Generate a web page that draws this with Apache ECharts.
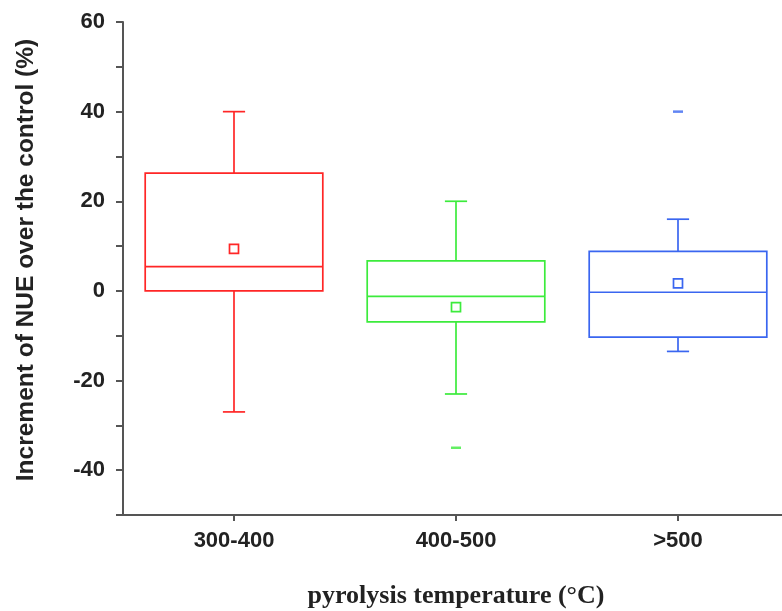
<!DOCTYPE html>
<html lang="en" style="height: 100%">
<head>
  <meta charset="utf-8">
  <title>NUE boxplot</title>
  <script src="https://cdn.jsdelivr.net/npm/echarts@6/dist/echarts.min.js"></script>
</head>
<body style="height: 100%; margin: 0; background: #fff">
  <div id="container" style="width: 782px; height: 611px"></div>
  <script type="text/javascript">
    // values
    var categories = ['300-400', '400-500', '>500'];
    var lowWhisker = [-27, -23, -13.5];
    var q1 = [0, -6.9, -10.3];
    var median = [5.4, -1.2, -0.3];
    var q3 = [26.3, 6.7, 8.8];
    var highWhisker = [40, 20, 16];
    var means = [9.4, -3.6, 1.7];
    var outliers = [[1, -35], [2, 40]];
    var colors = ['#ff2626', '#3ceb3c', '#3a66f0'];

    var dom = document.getElementById('container');
    var myChart = echarts.init(dom, null, { renderer: 'canvas' });

    var boxData = categories.map(function (c, i) {
      return [i, lowWhisker[i], q1[i], median[i], q3[i], highWhisker[i], means[i]];
    });

    function renderBox(params, api) {
      var i = api.value(0);
      var band = api.size([1, 0])[0];
      var half = band * 0.4;
      var cap = band * 0.05;
      var cx = api.coord([i, 0])[0];
      var yLow = api.coord([i, api.value(1)])[1];
      var yQ1 = api.coord([i, api.value(2)])[1];
      var yMed = api.coord([i, api.value(3)])[1];
      var yQ3 = api.coord([i, api.value(4)])[1];
      var yHigh = api.coord([i, api.value(5)])[1];
      var yMean = api.coord([i, api.value(6)])[1];
      var st = { stroke: colors[i], lineWidth: 1.7, fill: null };
      return {
        type: 'group',
        children: [
          { type: 'rect', shape: { x: cx - half, y: yQ3, width: half * 2, height: yQ1 - yQ3 }, style: st },
          { type: 'line', shape: { x1: cx - half, y1: yMed, x2: cx + half, y2: yMed }, style: st },
          { type: 'line', shape: { x1: cx, y1: yQ3, x2: cx, y2: yHigh }, style: st },
          { type: 'line', shape: { x1: cx, y1: yQ1, x2: cx, y2: yLow }, style: st },
          { type: 'line', shape: { x1: cx - cap, y1: yHigh, x2: cx + cap, y2: yHigh }, style: st },
          { type: 'line', shape: { x1: cx - cap, y1: yLow, x2: cx + cap, y2: yLow }, style: st },
          { type: 'rect', shape: { x: cx - 4.5, y: yMean - 4.5, width: 9, height: 9 }, style: st }
        ]
      };
    }

    var option = {
      animation: false,
      grid: { left: 123, width: 666, top: 22, bottom: 96, outerBoundsMode: 'none', containLabel: false },
      xAxis: {
        type: 'category',
        data: categories,
        boundaryGap: true,
        axisLine: { onZero: false, lineStyle: { color: '#555', width: 2 } },
        axisTick: { show: true, alignWithLabel: true, length: 6, lineStyle: { color: '#555', width: 2 } },
        axisLabel: {
          margin: 15,
          color: '#222',
          fontSize: 22,
          fontWeight: 'bold',
          fontFamily: 'Liberation Sans, Arial, sans-serif'
        },
        splitLine: { show: false }
      },
      yAxis: {
        type: 'value',
        min: -50,
        max: 60,
        interval: 10,
        axisLine: { show: true, lineStyle: { color: '#555', width: 2 } },
        axisTick: { show: true, length: 7, lineStyle: { color: '#555', width: 2 } },
        axisLabel: {
          margin: 18,
          color: '#222',
          fontSize: 22,
          fontWeight: 'bold',
          fontFamily: 'Liberation Sans, Arial, sans-serif',
          formatter: function (v) { return v % 20 === 0 ? String(v) : ''; }
        },
        splitLine: { show: false }
      },
      graphic: [
        {
          type: 'text',
          x: 26,
          y: 260,
          rotation: Math.PI / 2,
          style: {
            text: 'Increment of NUE over the control (%)',
            align: 'center',
            verticalAlign: 'middle',
            fill: '#222',
            font: 'bold 24.5px "Liberation Sans", Arial, sans-serif'
          }
        },
        {
          type: 'text',
          x: 456,
          y: 596,
          style: {
            text: 'pyrolysis temperature (°C)',
            align: 'center',
            verticalAlign: 'middle',
            fill: '#222',
            font: 'bold 26px "Liberation Serif", "Times New Roman", serif'
          }
        }
      ],
      series: [
        {
          type: 'custom',
          renderItem: renderBox,
          encode: { x: 0, y: [1, 2, 3, 4, 5, 6] },
          data: boxData
        },
        {
          type: 'scatter',
          symbol: 'rect',
          symbolSize: [10, 2.5],
          data: outliers.map(function (o) {
            return { value: o, itemStyle: { color: colors[o[0]] } };
          })
        }
      ]
    };

    myChart.setOption(option);
    window.addEventListener('resize', myChart.resize);
  </script>
</body>
</html>
